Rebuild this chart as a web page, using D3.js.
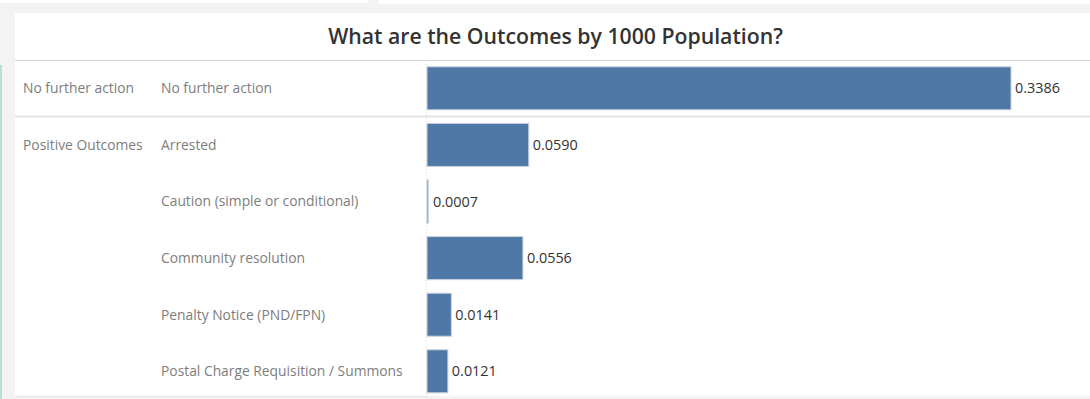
<!DOCTYPE html>
<html>
<head>
<meta charset="utf-8">
<script src="https://cdn.jsdelivr.net/npm/d3@7"></script>
<style>
  html, body { margin: 0; padding: 0; background: #f3f3f3; }
  svg { display: block; }
</style>
</head>
<body>
<script>
// ---- data ----
const title = "What are the Outcomes by 1000 Population?";
const groups = ["No further action", "Positive Outcomes", "Positive Outcomes", "Positive Outcomes", "Positive Outcomes", "Positive Outcomes"];
const outcomes = ["No further action", "Arrested", "Caution (simple or conditional)", "Community resolution", "Penalty Notice (PND/FPN)", "Postal Charge Requisition / Summons"];
const values = [0.3386, 0.0590, 0.0007, 0.0556, 0.0141, 0.0121];

const W = 1090, H = 399;
const rows = outcomes.map((o, i) => ({ group: groups[i], outcome: o, value: values[i], key: i }));

const svg = d3.select("body").append("svg").attr("width", W).attr("height", H);

const font = "'Open Sans', sans-serif";

// size fonts so that text widths match the reference layout
function fitSize(str, weight, targetWidth) {
  const t = svg.append("text").attr("font-family", font).attr("font-weight", weight)
    .attr("font-size", 20).text(str);
  const w = t.node().getComputedTextLength();
  t.remove();
  return 20 * targetWidth / w;
}
const labelSize = fitSize("Postal Charge Requisition / Summons", 400, 242);
const titleSize = fitSize(title, 600, 455);
const valueSize = fitSize("0.3386", 400, 45);

// background frame
svg.append("rect").attr("x", 0).attr("y", 0).attr("width", W).attr("height", H).attr("fill", "#f3f3f3");
svg.append("rect").attr("x", 0).attr("y", 0).attr("width", 368).attr("height", 3).attr("fill", "#ffffff");
svg.append("rect").attr("x", 379).attr("y", 0).attr("width", W - 379).attr("height", 4).attr("fill", "#ffffff");
svg.append("rect").attr("x", 0).attr("y", 65).attr("width", 2).attr("height", H - 65).attr("fill", "#b7e0d9");
// main white panel
svg.append("rect").attr("x", 15).attr("y", 13).attr("width", W - 15).attr("height", 383).attr("fill", "#ffffff");

// title
svg.append("text")
  .attr("x", 555.5).attr("y", 37)
  .attr("dy", "0.35em")
  .attr("text-anchor", "middle")
  .attr("font-family", font)
  .attr("font-weight", 600)
  .attr("font-size", titleSize)
  .attr("fill", "#333333")
  .text(title);

// scales
const y = d3.scaleBand()
  .domain(rows.map(d => d.key))
  .range([60, 399.6])
  .paddingInner(0.24)
  .paddingOuter(0.12);

const x0 = 427;
const x = d3.scaleLinear()
  .domain([0, d3.max(values)])
  .range([x0, 1011]);

// horizontal separators
svg.append("line").attr("x1", 15).attr("x2", W).attr("y1", 60.5).attr("y2", 60.5)
  .attr("stroke", "#d4d4d4").attr("stroke-width", 1);
svg.append("line").attr("x1", 15).attr("x2", W).attr("y1", 116.5).attr("y2", 116.5)
  .attr("stroke", "#e3e3e3").attr("stroke-width", 2);
svg.append("line").attr("x1", 15).attr("x2", x0).attr("y1", 396.5).attr("y2", 396.5)
  .attr("stroke", "#e3e3e3").attr("stroke-width", 1);

// zero axis (dotted)
svg.append("line").attr("x1", x0 - 0.5).attr("x2", x0 - 0.5).attr("y1", 61).attr("y2", H)
  .attr("stroke", "#d8d8d8").attr("stroke-width", 1).attr("stroke-dasharray", "1,2");

// group labels (first row of each group)
const groupFirst = rows.filter((d, i) => i === 0 || rows[i - 1].group !== d.group);
svg.append("g").selectAll("text").data(groupFirst).join("text")
  .attr("x", 23)
  .attr("y", d => y(d.key) + y.bandwidth() / 2)
  .attr("dy", "0.35em")
  .attr("font-family", font)
  .attr("font-size", labelSize)
  .attr("fill", "#7d7d7d")
  .text(d => d.group);

// outcome labels
svg.append("g").selectAll("text").data(rows).join("text")
  .attr("x", 161)
  .attr("y", d => y(d.key) + y.bandwidth() / 2)
  .attr("dy", "0.35em")
  .attr("font-family", font)
  .attr("font-size", labelSize)
  .attr("fill", "#7d7d7d")
  .text(d => d.outcome);

// bars
svg.append("g").selectAll("rect").data(rows).join("rect")
  .attr("x", x0)
  .attr("y", d => y(d.key))
  .attr("width", d => Math.max(1, x(d.value) - x0))
  .attr("height", y.bandwidth())
  .attr("fill", "#4e79a7")
  .attr("stroke", "#c9d2dc")
  .attr("stroke-width", 1);

// value labels
svg.append("g").selectAll("text").data(rows).join("text")
  .attr("x", d => Math.max(x(d.value), x0 + 2) + 4)
  .attr("y", d => y(d.key) + y.bandwidth() / 2)
  .attr("dy", "0.35em")
  .attr("font-family", font)
  .attr("font-size", valueSize)
  .attr("fill", "#333333")
  .text(d => d.value.toFixed(4));
</script>
</body>
</html>
